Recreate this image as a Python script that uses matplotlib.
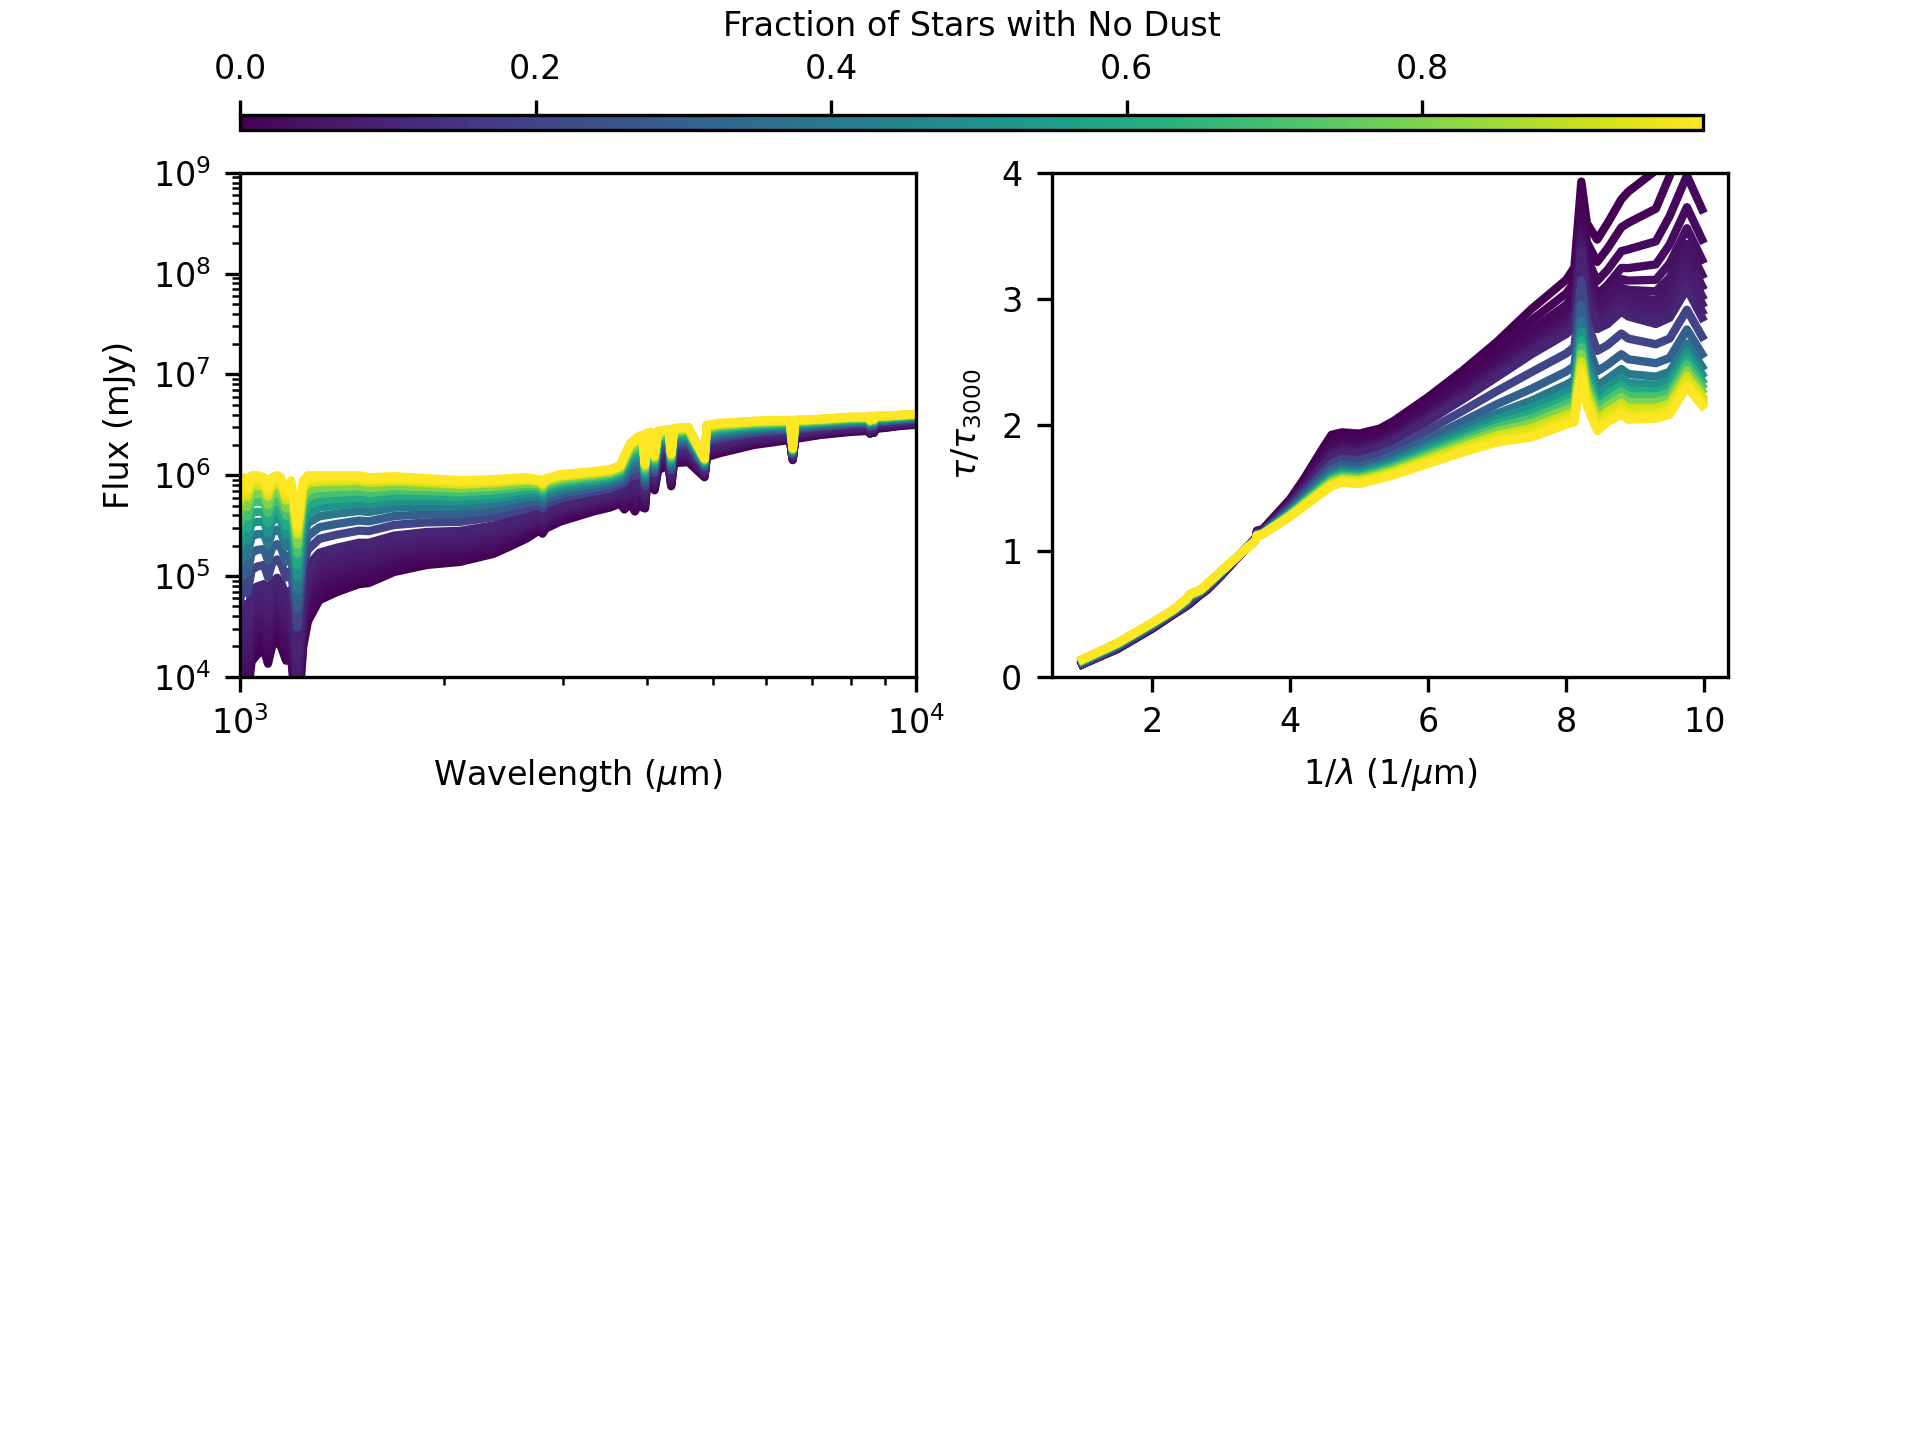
from matplotlib import pyplot as plt
from matplotlib import colors as mcolors
from matplotlib import cm
import numpy as np

plt.rcParams['font.size'] = 8

# fractions of stars with no dust (one curve each)
frac = [0.0, 0.01, 0.02, 0.03, 0.04, 0.05, 0.06, 0.07, 0.08, 0.09, 0.1,
        0.2, 0.3, 0.4, 0.5, 0.6, 0.7, 0.8, 0.9,
        0.91, 0.92, 0.93, 0.94, 0.95, 0.96, 0.97, 0.98, 0.99]

# Spectra, log10 flux in mJy: lowest curve (f=0) and top curve (f=0.99)
wave = [1000, 1015, 1026, 1040, 1060, 1085, 1100, 1115, 1135, 1150, 1170, 1190,
        1216, 1240, 1260, 1310, 1390, 1500, 1550, 1690, 1890, 2115, 2370, 2500,
        2650, 2780, 2800, 2830, 2975, 3330, 3525, 3650, 3700, 3775, 3835, 3889,
        3933, 3970, 3990, 4050, 4101, 4150, 4300, 4340, 4380, 4600, 4861, 4900,
        5130, 5750, 6500, 6563, 6620, 7224, 8000, 8500, 8540, 8600, 8660, 8700,
        9000, 9500, 10000]
logF_top = [5.85, 5.98, 5.90, 6.00, 6.00, 5.98, 5.88, 5.98, 6.00, 5.98, 5.84, 5.95,
            5.52, 5.95, 6.00, 6.00, 6.00, 6.00, 5.98, 5.99, 5.97, 5.95, 5.96, 5.97,
            5.98, 5.96, 5.93, 5.97, 6.01, 6.04, 6.06, 6.10, 6.20, 6.32, 6.36, 6.39,
            6.40, 6.12, 6.42, 6.43, 6.20, 6.44, 6.46, 6.22, 6.47, 6.48, 6.17, 6.50,
            6.52, 6.54, 6.55, 6.27, 6.55, 6.56, 6.58, 6.58, 6.55, 6.59, 6.56, 6.59,
            6.59, 6.60, 6.61]
logF_low = [3.70, 3.95, 3.80, 4.15, 4.22, 4.27, 4.13, 4.30, 4.36, 4.30, 4.16, 4.20,
            3.50, 4.30, 4.55, 4.76, 4.84, 4.92, 4.93, 5.04, 5.11, 5.14, 5.22, 5.29,
            5.37, 5.46, 5.42, 5.47, 5.54, 5.64, 5.68, 5.72, 5.66, 5.72, 5.64, 5.73,
            5.68, 5.67, 5.85, 6.00, 5.85, 6.05, 6.10, 5.89, 6.12, 6.13, 5.98, 6.18,
            6.22, 6.30, 6.35, 6.15, 6.36, 6.40, 6.43, 6.44, 6.41, 6.45, 6.42, 6.46,
            6.47, 6.49, 6.50]
# log10 flux of each curve at 1500 A
flux_1500 = [4.92, 4.96, 5.00, 5.04, 5.08, 5.12, 5.16, 5.20, 5.24, 5.28, 5.33,
             5.45, 5.55, 5.645, 5.72, 5.78, 5.84, 5.89, 5.94,
             5.945, 5.95, 5.955, 5.96, 5.966, 5.972, 5.978, 5.985, 6.0]

# attenuation curves tau/tau3000: darkest (f=0), f=0.1 and f=0.99
inv_wave = [0.99, 1.5, 2.0, 2.3, 2.5, 2.55, 2.7, 2.8, 3.0, 3.33, 3.5, 3.52, 3.6,
            4.0, 4.2, 4.47, 4.6, 4.75, 5.0, 5.3, 5.5, 6.0, 6.5, 7.0, 7.5, 8.0,
            8.12, 8.22, 8.3, 8.45, 8.6, 8.8, 8.9, 9.3, 9.5, 9.75, 9.97]
tau_top = [0.10, 0.22, 0.38, 0.49, 0.56, 0.58, 0.65, 0.69, 0.80, 1.00, 1.10, 1.16, 1.17,
           1.41, 1.57, 1.81, 1.92, 1.94, 1.93, 1.97, 2.03, 2.22, 2.43, 2.66, 2.92, 3.15,
           3.25, 3.93, 3.60, 3.47, 3.60, 3.79, 3.85, 4.02, 4.35, 4.75, 4.45]
tau_mid = [0.10, 0.23, 0.39, 0.50, 0.57, 0.60, 0.66, 0.70, 0.81, 1.00, 1.09, 1.14, 1.15,
           1.36, 1.49, 1.66, 1.74, 1.78, 1.77, 1.82, 1.87, 2.03, 2.20, 2.38, 2.56, 2.72,
           2.78, 3.35, 3.00, 2.76, 2.80, 2.90, 2.86, 2.80, 2.85, 3.08, 2.85]
tau_bot = [0.14, 0.27, 0.43, 0.53, 0.62, 0.66, 0.69, 0.74, 0.84, 1.00, 1.08, 1.12, 1.13,
           1.27, 1.35, 1.46, 1.51, 1.54, 1.53, 1.57, 1.60, 1.69, 1.78, 1.86, 1.90, 2.00,
           2.02, 2.40, 2.15, 1.95, 2.02, 2.08, 2.04, 2.05, 2.08, 2.30, 2.15]
# value of each curve at the right end (x ~ 10)
tau_end = [4.45, 4.05, 3.71, 3.47, 3.31, 3.19, 3.10, 3.02, 2.96, 2.90, 2.85,
           2.70, 2.56, 2.46, 2.40, 2.35, 2.31, 2.27, 2.23,
           2.225, 2.215, 2.205, 2.195, 2.185, 2.175, 2.165, 2.16, 2.15]

fig = plt.figure(figsize=(6.4, 4.8), dpi=300)
ax1 = fig.add_axes([0.125, 0.53, 0.3523, 0.35])
ax2 = fig.add_axes([0.5477, 0.53, 0.3523, 0.35])
cax = fig.add_axes([0.125, 0.91, 0.762, 0.01])

cmap = plt.get_cmap('viridis')
norm = mcolors.Normalize(vmin=0, vmax=0.99)

lf_top = np.array(logF_top)
lf_low = np.array(logF_low)
t_top = np.array(tau_top)
t_mid = np.array(tau_mid)
t_bot = np.array(tau_bot)

for f, lev, end in zip(frac, flux_1500, tau_end):
    c = cmap(norm(f))
    w = (lev - flux_1500[0])/(flux_1500[-1] - flux_1500[0])
    flux = 10**(lf_low + w*(lf_top - lf_low))
    ax1.plot(wave, flux, color=c, lw=2)

    if end >= tau_end[10]:
        w = (end - tau_end[10])/(tau_end[0] - tau_end[10])
        tau = t_mid + w*(t_top - t_mid)
    else:
        w = (end - tau_end[-1])/(tau_end[10] - tau_end[-1])
        tau = t_bot + w*(t_mid - t_bot)
    ax2.plot(inv_wave, tau, color=c, lw=2)

ax1.set_xscale('log')
ax1.set_yscale('log')
ax1.set_xlim(1e3, 1e4)
ax1.set_ylim(1e4, 1e9)
ax1.set_xlabel('Wavelength ($\\mu$m)')
ax1.set_ylabel('Flux (mJy)')

ax2.set_xlim(0.545, 10.345)
ax2.set_ylim(0, 4)
ax2.set_yticks([0, 1, 2, 3, 4])
ax2.set_xticks([2, 4, 6, 8, 10])
ax2.set_xlabel('1/$\\lambda$ (1/$\\mu$m)')
ax2.set_ylabel('$\\tau/\\tau_{3000}$')

sm = cm.ScalarMappable(norm=norm, cmap=cmap)
cb = fig.colorbar(sm, cax=cax, orientation='horizontal')
cax.xaxis.set_ticks_position('top')
cax.xaxis.set_label_position('top')
cb.set_label('Fraction of Stars with No Dust')

fig.savefig('out.png', dpi=300)
